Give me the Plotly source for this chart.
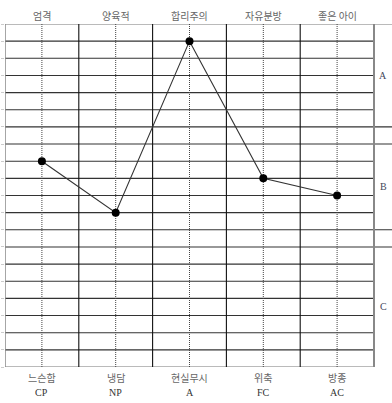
import plotly.graph_objects as go

# Data
top_labels = ["엄격", "양육적", "합리주의", "자유분방", "좋은 아이"]
bottom_labels = ["느슨함", "냉담", "현실무시", "위축", "방종"]
codes = ["CP", "NP", "A", "FC", "AC"]
scores = [12, 9, 19, 11, 10]          # position on 0-20 scale (bottom = 0)
zone_labels = ["A", "B", "C"]
zone_centers = [17, 10.5, 3.5]
zone_breaks = [20, 14, 13, 8, 7]       # lines extending into the right column

N_ROWS = 20
N_COLS = len(top_labels)
W, H = 392, 403
ML, MR, MT, MB = 5, 0, 24, 36
col_px = (374 - 5) / N_COLS
x_max = (W - ML - MR) / col_px

xs = [i + 0.5 for i in range(N_COLS)]

fig = go.Figure()
fig.add_trace(go.Scatter(
    x=xs, y=scores, mode="lines+markers",
    line=dict(color="#333333", width=1.1),
    marker=dict(color="black", size=8),
    cliponaxis=False, hoverinfo="skip", showlegend=False,
))

shapes = []
# horizontal grid lines
for k in range(N_ROWS + 1):
    x1 = x_max if k in zone_breaks else N_COLS
    color = "#777777" if k in (0, N_ROWS) else "#333333"
    shapes.append(dict(type="line", xref="x", yref="y", x0=0, x1=x1, y0=k, y1=k,
                       line=dict(color=color, width=1.1), layer="below"))
# vertical column boundaries
for c in range(N_COLS + 1):
    if c == 0:
        ln = dict(color="#888888", width=1.5)
    elif c == N_COLS:
        ln = dict(color="#888888", width=2)
    else:
        ln = dict(color="#111111", width=1.1)
    shapes.append(dict(type="line", xref="x", yref="y", x0=c, x1=c, y0=0, y1=N_ROWS,
                       line=ln, layer="below"))
# dotted centre lines
for x in xs:
    shapes.append(dict(type="line", xref="x", yref="y", x0=x, x1=x, y0=0, y1=N_ROWS,
                       line=dict(color="#444444", width=1, dash="1px,1px"), layer="below"))

plot_h = H - MT - MB
def py_to_paper(py):
    return (H - MB - py) / plot_h

annotations = []
for x, t in zip(xs, top_labels):
    annotations.append(dict(x=x, xref="x", y=py_to_paper(15), yref="paper", text=t,
                            showarrow=False, yanchor="middle",
                            font=dict(family="Noto Sans CJK KR", size=10, color="#666666")))
for x, t in zip(xs, bottom_labels):
    annotations.append(dict(x=x, xref="x", y=py_to_paper(377), yref="paper", text=t,
                            showarrow=False, yanchor="middle",
                            font=dict(family="Noto Sans CJK KR", size=10, color="#666666")))
for x, t in zip(xs, codes):
    annotations.append(dict(x=x, xref="x", y=py_to_paper(392), yref="paper", text=t,
                            showarrow=False, yanchor="middle",
                            font=dict(family="Liberation Serif", size=10, color="#333333")))
xc = N_COLS + (x_max - N_COLS) / 2
for t, yc in zip(zone_labels, zone_centers):
    annotations.append(dict(x=xc, xref="x", y=yc, yref="y", text=t, showarrow=False,
                            font=dict(family="Liberation Serif", size=10, color="#44475a")))

fig.update_layout(
    width=W, height=H,
    margin=dict(l=ML, r=MR, t=MT, b=MB, pad=0),
    paper_bgcolor="white", plot_bgcolor="white",
    xaxis=dict(range=[0, x_max], showgrid=False, zeroline=False, showticklabels=False,
               ticks="", showline=False, fixedrange=True),
    yaxis=dict(range=[0, N_ROWS], showgrid=False, zeroline=False, showticklabels=False,
               ticks="outside", ticklen=3, tickcolor="#cccccc", dtick=1,
               showline=False, fixedrange=True),
    shapes=shapes, annotations=annotations,
)

fig.write_html("out.html")
